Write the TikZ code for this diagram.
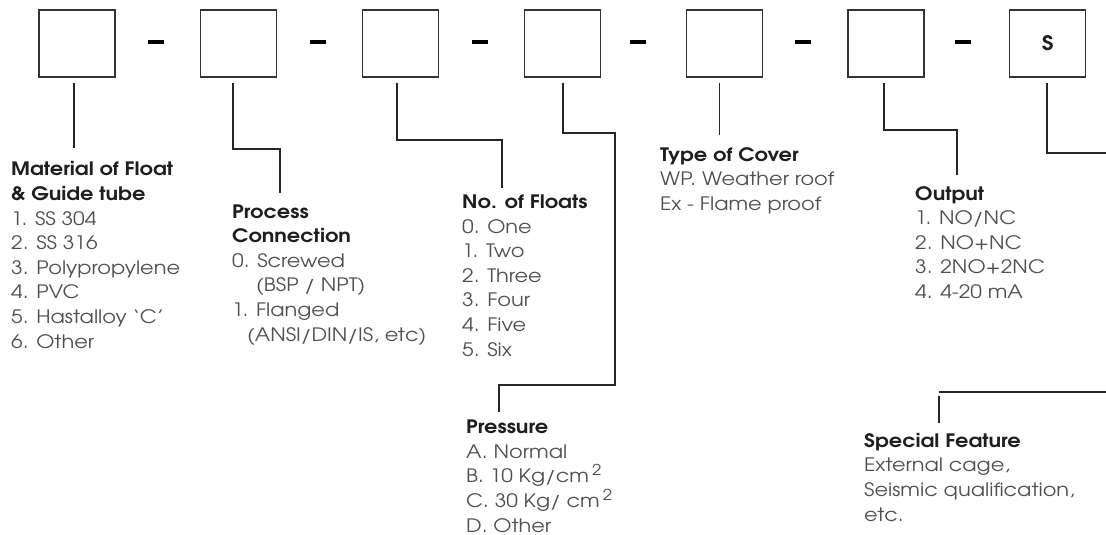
\documentclass[tikz,border=0pt]{standalone}
\usepackage{fontspec}
\setmainfont{TeX Gyre Adventor}[FakeStretch=1.13]
\definecolor{head}{HTML}{1E1E1E}
\definecolor{item}{HTML}{505050}
\definecolor{ln}{HTML}{262626}
\newcommand{\lblfont}{\fontsize{18.5}{24.6}\selectfont\lineskiplimit=-100pt\relax}
\tikzset{
  codebox/.style={draw=black!80, line width=1.3pt, minimum width=76pt, minimum height=67pt, inner sep=0pt},
  dashbar/.style={fill=black, minimum width=16pt, minimum height=3.6pt, inner sep=0pt},
  conn/.style={draw=ln, line width=1.5pt},
  lbl/.style={anchor=base west, align=left, inner sep=0pt, text=item, font=\lblfont},
}
\newcommand{\hd}[1]{\textcolor{head}{\bfseries #1}}
\newcommand{\sqr}{\hspace{3pt}\raisebox{7pt}{\fontsize{15}{15}\selectfont 2}}
\begin{document}
\begin{tikzpicture}[x=1pt,y=-1pt]
\useasboundingbox (0,0) rectangle (1106,535);
% code boxes
\node[codebox] (b1) at (77,43.5) {};
\node[codebox] (b2) at (238.8,43.5) {};
\node[codebox] (b3) at (400.6,43.5) {};
\node[codebox] (b4) at (562.4,43.5) {};
\node[codebox] (b5) at (724.2,43.5) {};
\node[codebox] (b6) at (886,43.5) {};
\node[codebox, font=\bfseries\fontsize{20}{20}\selectfont, text=head] (b7) at (1047.8,43.5) {S};
% separators
\node[dashbar] (d1) at (156,42) {};
\node[dashbar] (d2) at (317.8,42) {};
\node[dashbar] (d3) at (479.6,42) {};
\node[dashbar] (d4) at (637.5,42) {};
\node[dashbar] (d5) at (803,42) {};
\node[dashbar] (d6) at (962.5,42) {};
% labels (base anchor = baseline of the last line)
\node[lbl] (mat) at (11,348) {\hd{Material of Float}\\ \hd{\& Guide tube}\\ 1. SS 304\\ 2. SS 316\\ 3. Polypropylene\\ 4. PVC\\ 5. Hastalloy ‘C’\\ 6. Other};
\node[lbl] (proc) at (232,341) {\hd{Process}\\ \hd{Connection}\\ 0. Screwed\\ \hspace*{24pt}(BSP / NPT)\\ 1. Flanged\\ \hspace*{15pt}(ANSI/DIN/IS, etc)};
\node[lbl] (flo) at (462,356) {\hd{No. of Floats}\\ 0. One\\ 1. Two\\ 2. Three\\ 3. Four\\ 4. Five\\ 5. Six};
\node[lbl] (pres) at (466,532) {\hd{Pressure}\\ A. Normal\\ B. 10 Kg/cm\sqr\\ C. 30 Kg/ cm\sqr\\ D. Other};
\node[lbl] (cov) at (660,210.5) {\hd{Type of Cover}\\ WP. Weather roof\\ Ex - Flame proof};
\node[lbl] (out) at (915,298.5) {\hd{Output}\\ 1. NO/NC\\ 2. NO+NC\\ 3. 2NO+2NC\\ 4. 4-20 mA};
\node[lbl] (spec) at (864,521) {\hd{Special Feature}\\ External cage,\\ Seismic qualification,\\ etc.};
% connector coordinates
\coordinate (e1) at (74,148);
\coordinate (k2) at (280,149); \coordinate (e2) at (280,193);
\coordinate (k3) at (502,140); \coordinate (e3) at (502,188);
\coordinate (k4) at (615,133); \coordinate (m4) at (615,385); \coordinate (e4) at (499,412);
\coordinate (e5) at (719.5,135);
\coordinate (k6) at (957,130); \coordinate (e6) at (957,175);
\coordinate (k7) at (1112,153); \coordinate (r7) at (1112,392); \coordinate (c7) at (939,392);
\coordinate (c7b) at (939,396); \coordinate (e7) at (939,423);
% connectors
\draw[conn] ([xshift=-3pt,yshift=-5pt]b1.south) -- (e1);
\draw[conn] ([xshift=-5.8pt,yshift=-5pt]b2.south) |- (k2) -- (e2);
\draw[conn] ([xshift=-3.6pt,yshift=-5pt]b3.south) |- (k3) -- (e3);
\draw[conn] ([xshift=0.6pt,yshift=-5pt]b4.south) |- (k4) -- (m4) -| (e4);
\draw[conn] ([xshift=-4.7pt,yshift=-5pt]b5.south) -- (e5);
\draw[conn] ([xshift=-2pt,yshift=-5pt]b6.south) |- (k6) -- (e6);
\draw[conn] ([xshift=-0.8pt,yshift=-5pt]b7.south) |- (k7);
\draw[conn] (r7) -- (c7) (c7b) -- (e7);
\end{tikzpicture}
\end{document}
